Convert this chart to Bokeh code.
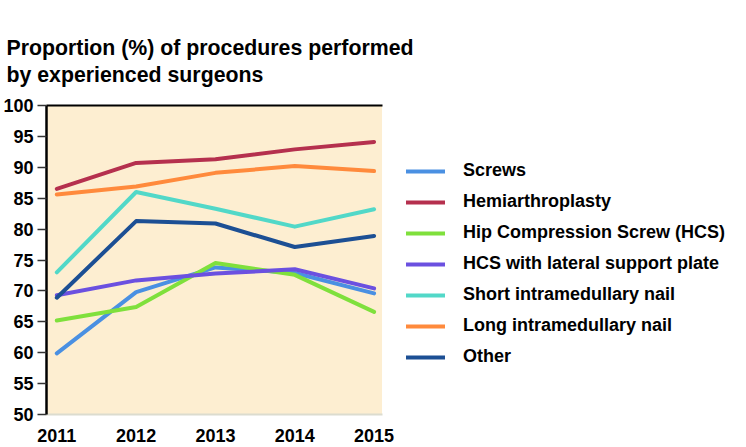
from bokeh.plotting import figure
from bokeh.models import (Range1d, Legend, LegendItem, Title, FixedTicker,
                          BoxAnnotation, LinearAxis)
from bokeh.embed import file_html
from bokeh.resources import INLINE

years = [2011, 2012, 2013, 2014, 2015]
screws = [59.9, 69.8, 73.8, 72.9, 69.6]
hemi = [86.5, 90.7, 91.3, 92.9, 94.1]
hcs = [65.2, 67.4, 74.5, 72.6, 66.6]
hcs_lat = [69.3, 71.7, 72.8, 73.5, 70.4]
short_im = [73.0, 86.0, 83.3, 80.4, 83.2]
long_im = [85.6, 86.9, 89.1, 90.2, 89.4]
other = [68.9, 81.3, 80.9, 77.1, 78.9]

series = [
    ("Screws", screws, "#4a90e2"),
    ("Hemiarthroplasty", hemi, "#b5304e"),
    ("Hip Compression Screw (HCS)", hcs, "#7fe03c"),
    ("HCS with lateral support plate", hcs_lat, "#6b50e0"),
    ("Short intramedullary nail", short_im, "#52d8c8"),
    ("Long intramedullary nail", long_im, "#ff8a3c"),
    ("Other", other, "#1c4f94"),
]
y_ticks = [50, 55, 60, 65, 70, 75, 80, 85, 90, 95, 100]

FONT = "Liberation Sans"
W, H = 746, 447
LEFT, RIGHT_PLOT, TOP, BOTTOM = 45, 381, 105, 33
X0, X1 = 2010.87, 2015.1            # visible plot area (year axis)
px_per_year = (RIGHT_PLOT - LEFT) / (X1 - X0)
x_end = X0 + (W - LEFT) / px_per_year  # frame extends under the legend

p = figure(width=W, height=H, output_backend="svg", toolbar_location=None,
           x_range=Range1d(X0, x_end), y_range=Range1d(50, 100),
           min_border_left=LEFT, min_border_right=0, min_border_top=TOP,
           min_border_bottom=BOTTOM)
p.background_fill_color = "white"
p.border_fill_color = "white"
p.outline_line_color = None
p.xgrid.visible = False
p.ygrid.visible = False

# beige plot area
p.add_layout(BoxAnnotation(left=X0, right=X1, bottom=50, top=100,
                           fill_color="#fdeed1", fill_alpha=1, line_color=None,
                           level="underlay"))

items = []
for name, vals, col in series:
    r = p.line(years, vals, line_color=col, line_width=4, line_cap="round", line_join="round")
    items.append(LegendItem(label=name, renderers=[r]))

# y axis
p.yaxis.ticker = FixedTicker(ticks=y_ticks)
p.yaxis.axis_line_color = "black"
p.yaxis.axis_line_width = 2.5
p.yaxis.major_tick_out = 9
p.yaxis.major_tick_in = 0
p.yaxis.minor_tick_line_color = None
p.yaxis.major_tick_line_color = "#333333"
p.yaxis.major_tick_line_width = 1.5
p.yaxis.major_label_standoff = 4
p.yaxis.major_label_text_font = FONT
p.yaxis.major_label_text_font_size = "18px"
p.yaxis.major_label_text_font_style = "bold"
p.yaxis.major_label_text_color = "black"

# x axis
p.xaxis.ticker = FixedTicker(ticks=years)
p.xaxis.bounds = (X0, X1)
p.xaxis.axis_line_color = "#dcdccf"
p.xaxis.axis_line_width = 2
p.xaxis.major_tick_line_color = None
p.xaxis.minor_tick_line_color = None
p.xaxis.major_tick_out = 0
p.xaxis.major_tick_in = 0
p.xaxis.major_label_standoff = 14
p.xaxis.major_label_text_font = FONT
p.xaxis.major_label_text_font_size = "18px"
p.xaxis.major_label_text_font_style = "bold"
p.xaxis.major_label_text_color = "black"

# top border of the plot area
top_axis = LinearAxis(bounds=(X0, X1), ticker=FixedTicker(ticks=[]),
                      axis_line_color="black", axis_line_width=2,
                      major_tick_line_color=None, minor_tick_line_color=None,
                      major_label_text_font_size="0px", major_tick_out=0,
                      major_tick_in=0, major_label_standoff=0)
p.add_layout(top_axis, "above")

title = Title(text="Proportion (%) of procedures performed\nby experienced surgeons",
              align="left", offset=-40, standoff=37, text_line_height=1.11,
              text_font=FONT, text_font_size="21.3px", text_font_style="bold",
              text_color="black")
p.add_layout(title, "above")

legend = Legend(items=items, location=(360, 47), orientation="vertical",
                glyph_width=39, glyph_height=20, label_height=20, spacing=10,
                label_standoff=18, padding=0, margin=0,
                border_line_alpha=0, background_fill_alpha=0,
                label_text_font=FONT, label_text_font_size="18px",
                label_text_font_style="bold", label_text_color="black")
p.add_layout(legend, "center")

open("out.html", "w").write(file_html(p, INLINE))
